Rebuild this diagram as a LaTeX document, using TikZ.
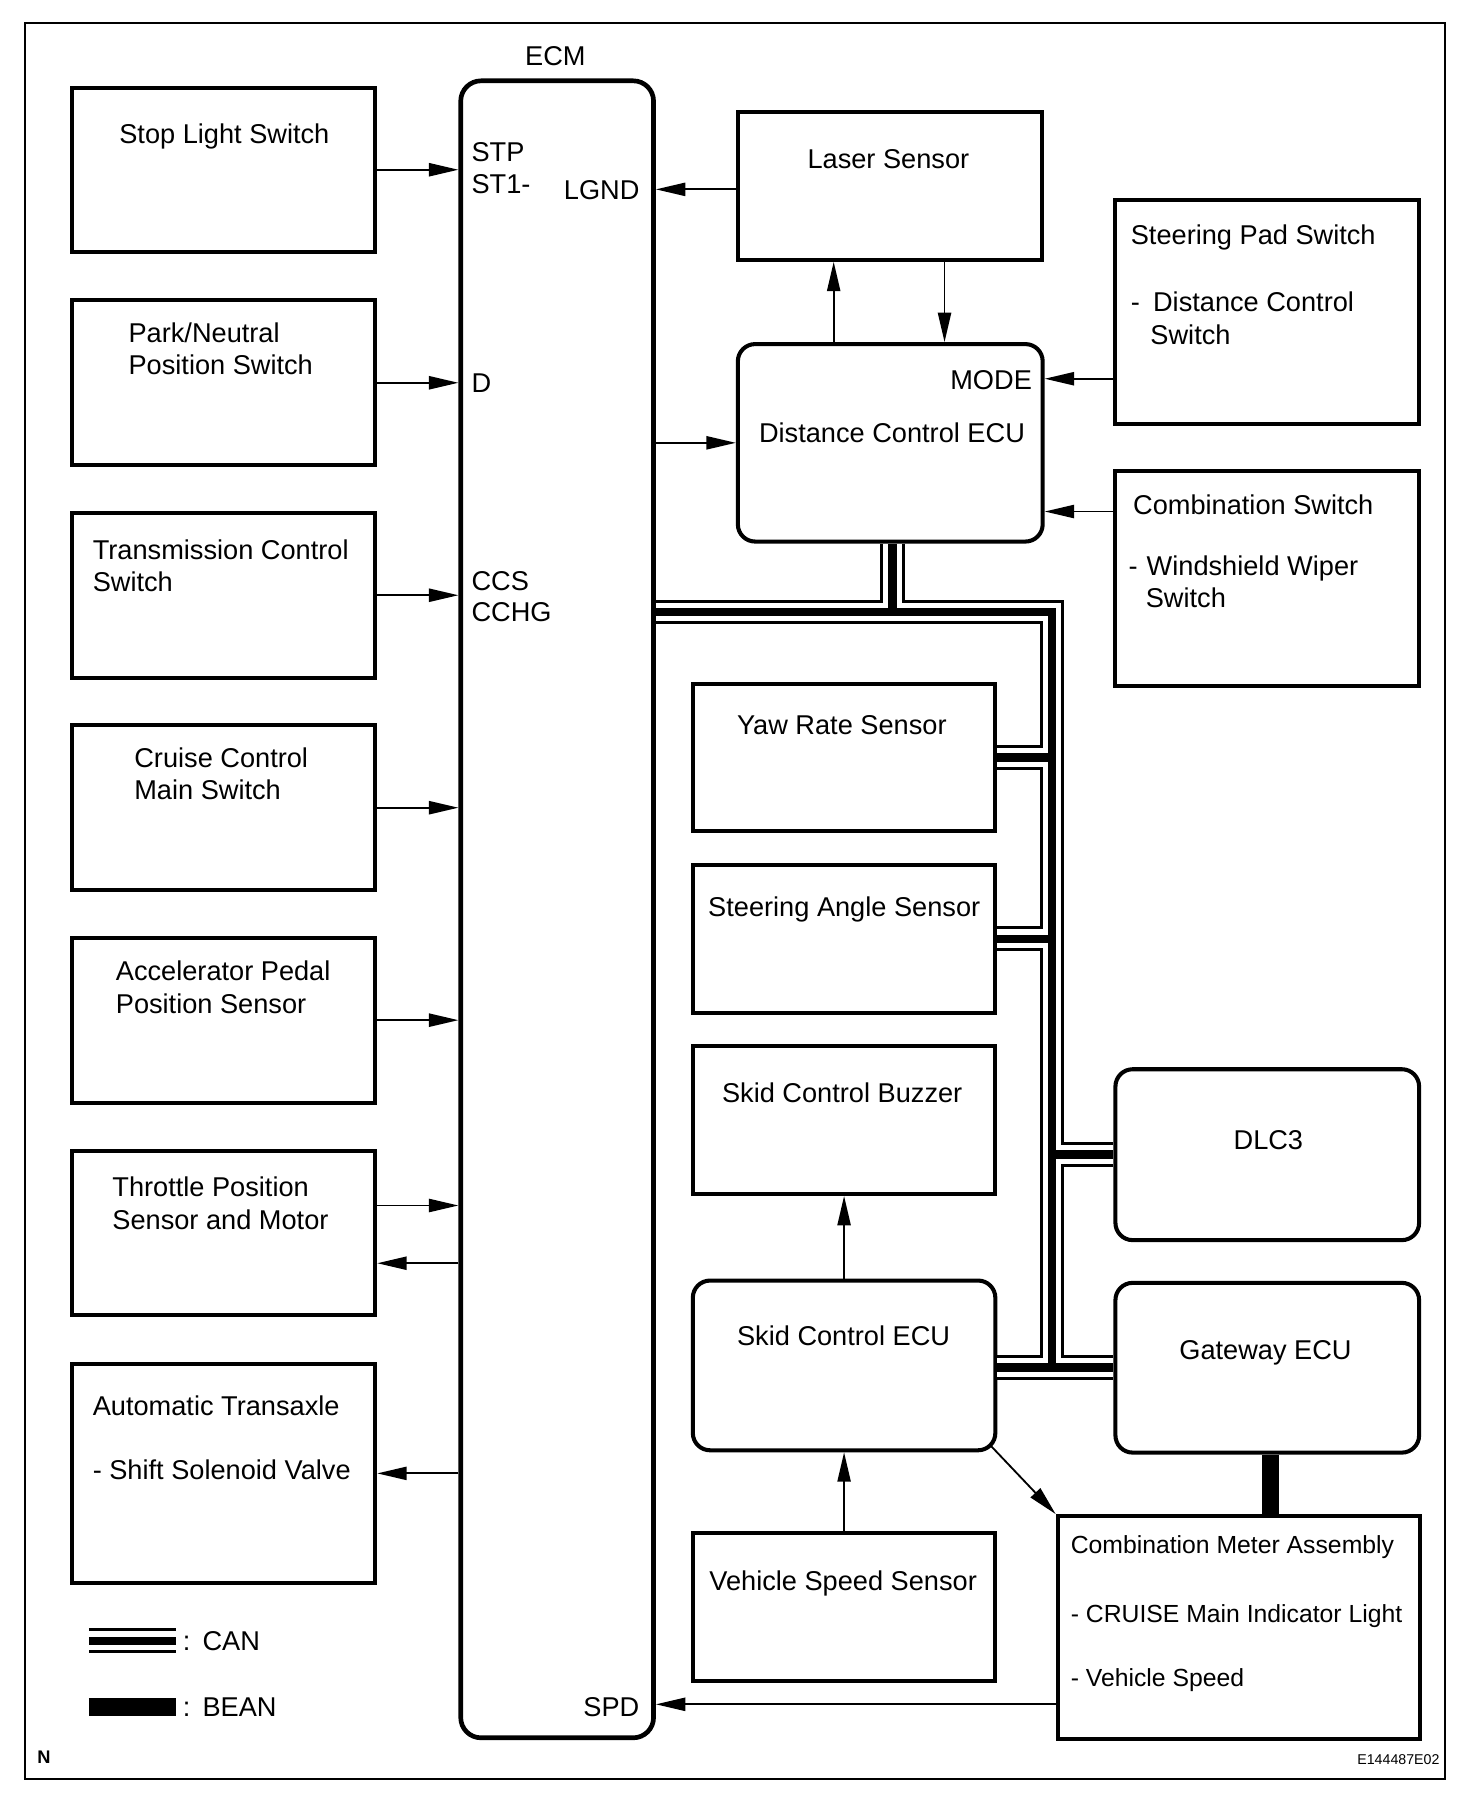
\documentclass[tikz,border=0pt]{standalone}
\usepackage{fontspec}
\setmainfont{Liberation Sans}
\usetikzlibrary{fit,arrows.meta}
\newcommand\fsmain{\fontsize{13.4pt}{16pt}\selectfont}
\newcommand\fsmeter{\fontsize{12.2pt}{15pt}\selectfont}
\tikzset{
  box/.style={draw, line width=2pt, inner sep=0pt},
  rbox/.style={box, rounded corners=8.5pt},
  ecmbox/.style={draw, line width=2.3pt, inner sep=0pt, rounded corners=10pt},
  txt/.style={anchor=base west, inner sep=0pt, font=\fsmain},
  txtm/.style={anchor=base west, inner sep=0pt, font=\fsmeter},
  arr/.style={line width=0.9pt, -{Triangle[length=14.5pt,width=6.5pt]}},
  canA/.style={line width=12.2pt, draw=black},
  canB/.style={line width=9.2pt, draw=white},
  canC/.style={line width=4.2pt, draw=black},
  bean/.style={line width=8.5pt, draw=black},
}
\begin{document}
\begin{tikzpicture}[x=0.02cm, y=-0.02cm]
\useasboundingbox (0,0) rectangle (1275,1571);
\draw[line width=1pt] (22,20) rectangle (1251,1541);

% ECM
\node[ecmbox, fit={(399,70)(566,1505)}] (ecm) {};
\node[font=\fsmain, inner sep=0pt, anchor=base] (ecmlbl) at (481,56.5) {ECM};
\node[txt] (pSTP) at (408,139.5) {STP};
\node[txt] (pST1) at (408,167.5) {ST1-};
\node[txt] (pLGND) at (488,172.5) {LGND};
\node[txt] (pD) at (408,339.5) {D};
\node[txt] (pCCS) at (408,511.5) {CCS};
\node[txt] (pCCHG) at (408,538.5) {CCHG};
\node[txt, anchor=base east] (pSPD) at (554,1486.5) {SPD};

% left boxes
\node[box, fit={(62,76)(325,218)}] (stop) {};
\node[txt] (stopt) at (103,124.5) {Stop Light Switch};
\node[box, fit={(62,260)(325,403)}] (pnp) {};
\node[txt] (pnpt1) at (111,296.5) {Park/Neutral};
\node[txt] (pnpt2) at (111,324.5) {Position Switch};
\node[box, fit={(62,444)(325,587)}] (tcs) {};
\node[txt] (tcst1) at (80,484.5) {Transmission Control};
\node[txt] (tcst2) at (80,512.5) {Switch};
\node[box, fit={(62,628)(325,771)}] (ccm) {};
\node[txt] (ccmt1) at (116,664.5) {Cruise Control};
\node[txt] (ccmt2) at (116,692.5) {Main Switch};
\node[box, fit={(62,812)(325,955)}] (aps) {};
\node[txt] (apst1) at (100,849.5) {Accelerator Pedal};
\node[txt] (apst2) at (100,877.5) {Position Sensor};
\node[box, fit={(62,997)(325,1139)}] (thr) {};
\node[txt] (thrt1) at (97,1036.5) {Throttle Position};
\node[txt] (thrt2) at (97,1064.5) {Sensor and Motor};
\node[box, fit={(62,1181)(325,1371)}] (atx) {};
\node[txt] (atxt1) at (80,1225.5) {Automatic Transaxle};
\node[txt] (atxt2) at (80,1281.5) {- Shift Solenoid Valve};

% left arrows
\draw[arr] (stop.east) -- (stop.east -| ecm.west);
\draw[arr] (pnp.east) -- (pnp.east -| ecm.west);
\draw[arr] (tcs.east) -- (tcs.east -| ecm.west);
\draw[arr] (ccm.east) -- (ccm.east -| ecm.west);
\draw[arr] (aps.east) -- (aps.east -| ecm.west);
\draw[arr] (thr.east |- 0,1044) -- (ecm.west |- 0,1044);
\draw[arr] (ecm.west |- 0,1094) -- (thr.east |- 0,1094);
\draw[arr] (ecm.west |- atx.east) -- (atx.east);

% upper right
\node[box, fit={(639,97)(902,225)}] (las) {};
\node[txt] (last) at (699,145.5) {Laser Sensor};
\node[rbox, fit={(639,298)(903,469)}] (dce) {};
\node[txt, anchor=base east] (mode) at (894,337.5) {MODE};
\node[txt] (dcet) at (657,383.5) {Distance Control ECU};
\node[box, fit={(966,173)(1229,367)}] (sps) {};
\node[txt] (spst1) at (979,211.5) {Steering Pad Switch};
\node[txt] (spst2) at (979,269.5) {-\hspace{6.5pt}Distance Control};
\node[txt] (spst3) at (996,298.5) {Switch};
\node[box, fit={(966,408)(1229,594)}] (cbs) {};
\node[txt] (cbst1) at (981,445.5) {Combination Switch};
\node[txt] (cbst2) at (977,498.5) {-\hspace{4.5pt}Windshield Wiper};
\node[txt] (cbst3) at (992,526.5) {Switch};

\draw[arr] (las.west |- 0,164) -- (ecm.east |- 0,164);
\draw[arr] (722,0 |- dce.north) -- (722,0 |- las.south);
\draw[arr] (818,0 |- las.south) -- (818,0 |- dce.north);
\draw[arr] (ecm.east |- dce.west) -- (dce.west);
\draw[arr] (sps.west |- 0,328) -- (dce.east |- 0,328);
\draw[arr] (cbs.west |- 0,443) -- (dce.east |- 0,443);

% lower right
\node[box, fit={(600,592)(862,720)}] (yaw) {};
\node[txt] (yawt) at (638,636.5) {Yaw Rate Sensor};
\node[box, fit={(600,749)(862,877)}] (sas) {};
\node[txt] (sast) at (613,793.5) {Steering Angle Sensor};
\node[box, fit={(600,906)(862,1034)}] (buz) {};
\node[txt] (buzt) at (625,954.5) {Skid Control Buzzer};
\node[rbox, fit={(600,1109)(862,1256)}] (sce) {};
\node[txt] (scet) at (638,1165.5) {Skid Control ECU};
\node[box, fit={(600,1328)(862,1456)}] (vss) {};
\node[txt] (vsst) at (614,1377.5) {Vehicle Speed Sensor};
\node[rbox, fit={(966,926)(1229,1074)}] (dlc) {};
\node[txt] (dlct) at (1068,995.5) {DLC3};
\node[rbox, fit={(966,1111)(1229,1258)}] (gw) {};
\node[txt] (gwt) at (1021,1177.5) {Gateway ECU};
\node[box, fit={(916,1313)(1230,1506)}] (cm) {};
\node[txtm] (cmt1) at (927,1345.5) {Combination Meter Assembly};
\node[txtm] (cmt2) at (927,1405.5) {- CRUISE Main Indicator Light};
\node[txtm] (cmt3) at (927,1460.5) {- Vehicle Speed};

\draw[arr] (sce.north) -- (buz.south);
\draw[arr] (vss.north) -- (sce.south);
\draw[arr] ([xshift=-3.5pt,yshift=3.5pt]sce.south east) -- (cm.north west);
\draw[arr] (cm.west |- 0,1476) -- (ecm.east |- 0,1476);
\draw[bean] (1100,0 |- gw.south) -- (1100,0 |- cm.north);

% CAN bus
\coordinate (cb) at (911,530);
\newcommand\canbus[1]{%
  \draw[#1] (ecm.east |- cb) -- (cb) -- (cb |- gw.west);
  \draw[#1] (773,0 |- dce.south) -- (773,0 |- cb);
  \draw[#1] (yaw.east) -- (yaw.east -| cb);
  \draw[#1] (sas.east) -- (sas.east -| cb);
  \draw[#1] (dlc.west) -- (dlc.west -| cb);
  \draw[#1] (sce.east |- gw.west) -- (gw.west);
}
\canbus{canA}\canbus{canB}\canbus{canC}

% legend
\coordinate (lc1) at (77,1421);
\coordinate (lc2) at (152,1421);
\foreach \s in {canA,canB,canC} \draw[\s] (lc1) -- (lc2);
\node[txt] (lcan) at (158,1429.5) {:\hspace{6pt}CAN};
\coordinate (lb1) at (77,1478);
\coordinate (lb2) at (152,1478);
\draw[line width=9pt] (lb1) -- (lb2);
\node[txt] (lbean) at (158,1486.5) {:\hspace{6pt}BEAN};

\node[font=\bfseries\fontsize{9pt}{10pt}\selectfont, inner sep=0pt, anchor=base] (nmark) at (38,1527) {N};
\node[font=\fontsize{7pt}{8pt}\selectfont, inner sep=0pt, anchor=base east] (code) at (1247,1528) {E144487E02};
\end{tikzpicture}
\end{document}
